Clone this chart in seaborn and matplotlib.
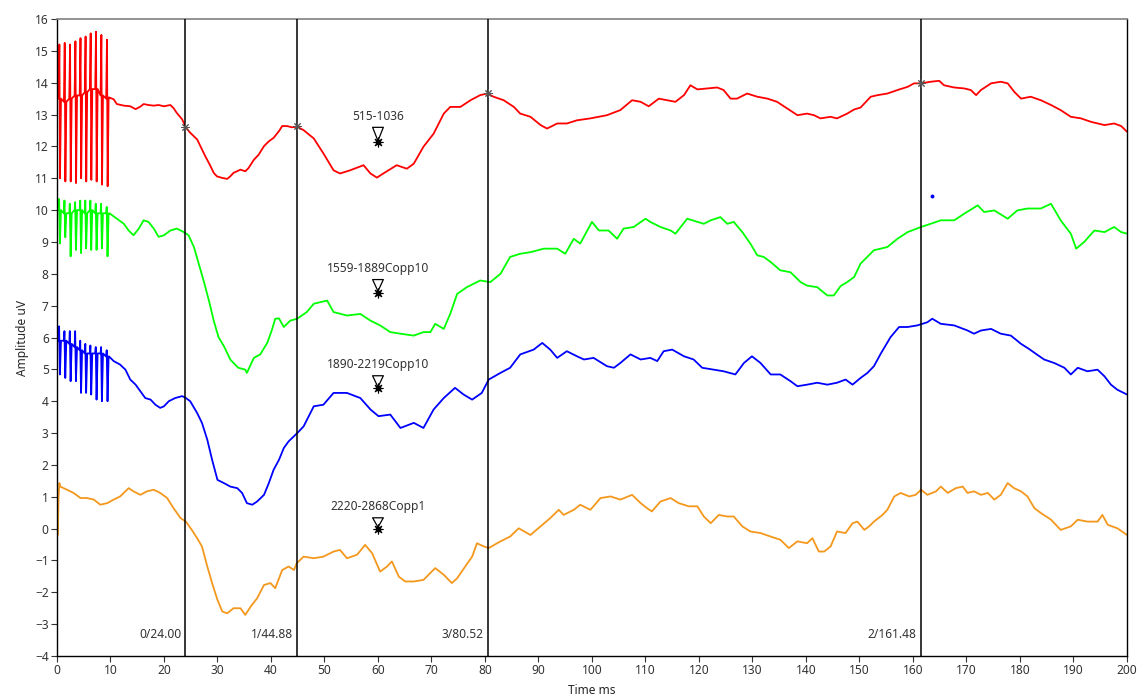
import numpy as np
import pandas as pd
import matplotlib
matplotlib.use("Agg")
import matplotlib.pyplot as plt
import seaborn as sns

# ---------------------------------------------------------------------------
# Stimulus artefact section (0-10 ms): one artefact per stimulus pulse
# ---------------------------------------------------------------------------
stim_t = [0.45, 1.45, 2.45, 3.45, 4.40, 5.35, 6.30, 7.30, 8.30, 9.35]

red_base = [13.5, 13.4, 13.5, 13.6, 13.6, 13.7, 13.8, 13.8, 13.6, 13.5]
red_top = [15.2, 15.25, 15.2, 15.3, 15.4, 15.45, 15.55, 15.6, 15.5, 15.35]
red_bot = [11.0, 10.9, 10.9, 10.85, 11.0, 10.9, 10.95, 10.9, 10.8, 10.75]

green_base = [10.0, 9.9, 9.9, 10.0, 10.0, 9.9, 10.0, 9.9, 9.9, 9.9]
green_top = [10.35, 10.3, 10.2, 10.25, 10.3, 10.3, 10.3, 10.2, 10.2, 10.1]
green_bot = [8.95, 9.15, 8.55, 8.75, 8.65, 8.8, 8.75, 8.75, 8.8, 8.55]

blue_base = [5.9, 5.9, 5.8, 5.7, 5.6, 5.5, 5.5, 5.5, 5.5, 5.4]
blue_top = [6.35, 6.2, 6.2, 6.2, 5.9, 5.8, 5.75, 5.7, 5.7, 5.6]
blue_bot = [4.84, 4.73, 4.63, 4.63, 4.26, 4.26, 4.21, 4.05, 4.0, 4.0]

start_t = [0.0, 0.05]
red_start = [13.4, 14.7]
green_start = [9.6, 10.0]
blue_start = [5.8, 5.9]

# ---------------------------------------------------------------------------
# Averaged responses after the stimulus train
# ---------------------------------------------------------------------------
red_t = [9.7, 10.6, 11.2, 12.5, 13.7, 14.7, 15.6, 16.2, 17.1, 18.1, 19, 20, 21.2, 21.8, 22.4, 23.4,
         24.1, 24.9, 26.2, 26.8, 27.7, 28.7, 29.3, 29.9, 30.9, 31.8, 32.4, 33, 34.3, 35.2, 35.8,
         36.8, 37.7, 38.7, 39.6, 40.5, 41.5, 42.1, 43, 43.9, 44.9, 46.1, 48, 49.8, 51.7, 52.9,
         54.8, 57.3, 58.6, 59.8, 61, 63.5, 65.4, 66.7, 68.5, 70.4, 72.3, 73.5, 75.4, 77.3, 79.1,
         80.4, 81.6, 83.5, 85.4, 86.6, 88.5, 90.4, 91.6, 93.5, 95.3, 97.2, 99.7, 102.8, 105.3,
         107.5, 109.1, 110.6, 112.5, 114.1, 115.6, 117.2, 118.4, 119.7, 121.5, 123.4, 124.6,
         125.9, 127.1, 129, 130.9, 132.8, 134.6, 136.5, 138.4, 140.2, 141.5, 142.7, 144.6, 145.8,
         147.7, 149, 150.2, 152.1, 153.4, 155.2, 157.1, 159, 160.2, 161.5, 163.3, 164.9, 165.8,
         167.7, 169.6, 170.8, 171.8, 172.7, 174.6, 176.4, 177.7, 178.9, 180.2, 182, 183.9, 185.8,
         187.6, 189.5, 191.4, 193.3, 195.8, 197.6, 198.9, 200]
red_v = [13.54, 13.48, 13.33, 13.28, 13.26, 13.17, 13.25, 13.33, 13.3, 13.28, 13.3, 13.26, 13.3,
         13.2, 13.05, 12.85, 12.59, 12.43, 12.22, 12.01, 11.7, 11.38, 11.17, 11.06, 11.01, 10.98,
         11.06, 11.17, 11.27, 11.22, 11.32, 11.58, 11.74, 12.01, 12.16, 12.27, 12.48, 12.64, 12.64,
         12.6, 12.62, 12.51, 12.25, 11.78, 11.25, 11.15, 11.25, 11.41, 11.15, 11.02, 11.15, 11.41,
         11.3, 11.46, 11.99, 12.4, 13.03, 13.24, 13.24, 13.45, 13.61, 13.66, 13.56, 13.45, 13.24,
         13.03, 12.93, 12.67, 12.56, 12.72, 12.72, 12.82, 12.88, 12.98, 13.14, 13.45, 13.4, 13.26,
         13.5, 13.45, 13.4, 13.61, 13.92, 13.79, 13.82, 13.85, 13.77, 13.5, 13.5, 13.66, 13.56,
         13.5, 13.4, 13.19, 12.98, 13.03, 12.98, 12.88, 12.93, 12.88, 13.03, 13.16, 13.22, 13.56,
         13.61, 13.66, 13.77, 13.87, 13.98, 13.98, 14.03, 14.06, 13.92, 13.85, 13.82, 13.77, 13.61,
         13.77, 13.98, 14.03, 13.98, 13.72, 13.5, 13.56, 13.45, 13.3, 13.14, 12.93, 12.88, 12.77,
         12.67, 12.72, 12.64, 12.46]

green_t = [9.9, 11.2, 12.5, 13.4, 14.3, 15.3, 16.2, 17.1, 18.1, 19, 20, 21.2, 22.4, 23.7, 24.6,
           25.6, 26.5, 27.4, 28.4, 29.3, 30.2, 31.2, 32.4, 33, 33.9, 35.2, 35.5, 36.8, 38, 39.3,
           40.2, 40.8, 41.5, 42.4, 43.6, 44.9, 46.7, 48, 50.5, 51.7, 54.2, 56.7, 58.6, 60.4, 62.3,
           64.2, 66.7, 68.5, 69.8, 70.7, 72.3, 73.5, 74.8, 76.6, 79.1, 81, 82.9, 84.7, 86.6, 88.5,
           91, 93.5, 95, 96.6, 97.8, 100, 101.3, 103.1, 104.7, 105.9, 107.8, 110, 110.9, 112.8,
           114.7, 115.6, 117.8, 119.7, 120.9, 122.2, 124, 125.3, 126.5, 128.1, 129.6, 130.9, 132.1,
           133.4, 135.2, 137.1, 139, 140.2, 142.1, 144, 145.2, 146.5, 147.7, 149, 150.2, 152.7,
           155.2, 157.1, 159, 161.5, 163.3, 165.2, 167.7, 169.6, 172.1, 173.3, 175.2, 177.7, 179.5,
           181.4, 183.9, 185.8, 187.6, 189.5, 190.5, 192, 193.9, 195.8, 197.6, 198.9, 200]
green_v = [9.89, 9.73, 9.57, 9.36, 9.21, 9.42, 9.68, 9.63, 9.42, 9.16, 9.21, 9.36, 9.42, 9.31, 9.21,
           8.84, 8.32, 7.79, 7.16, 6.53, 6.01, 5.73, 5.31, 5.2, 5.05, 4.99, 4.89, 5.36, 5.47, 5.83,
           6.25, 6.59, 6.6, 6.33, 6.53, 6.59, 6.8, 7.06, 7.16, 6.8, 6.69, 6.74, 6.53, 6.38, 6.17,
           6.12, 6.06, 6.17, 6.17, 6.43, 6.27, 6.74, 7.37, 7.58, 7.79, 7.74, 8.0, 8.53, 8.63, 8.68,
           8.79, 8.79, 8.63, 9.1, 8.95, 9.63, 9.36, 9.36, 9.1, 9.42, 9.47, 9.73, 9.63, 9.47, 9.36,
           9.26, 9.73, 9.63, 9.57, 9.68, 9.78, 9.57, 9.63, 9.31, 8.95, 8.58, 8.53, 8.37, 8.11, 8.05,
           7.74, 7.63, 7.58, 7.32, 7.32, 7.62, 7.74, 7.9, 8.32, 8.74, 8.84, 9.1, 9.31, 9.47, 9.57,
           9.68, 9.68, 9.89, 10.15, 9.94, 9.99, 9.73, 9.99, 10.05, 10.05, 10.2, 9.68, 9.26, 8.79,
           9.0, 9.36, 9.31, 9.47, 9.31, 9.26]

blue_t = [9.7, 10.6, 11.8, 12.8, 13.7, 14.7, 15.6, 16.5, 17.5, 18.4, 19.3, 20, 20.9, 22.1, 23.4,
          24.1, 24.9, 26.2, 27.1, 28.1, 29, 30, 31.2, 32.4, 33.7, 34.6, 35.5, 36.5, 37.4, 38.7,
          39.6, 40.5, 41.5, 42.4, 43.3, 44.3, 45.2, 46.1, 48, 49.8, 51.7, 54.2, 56.7, 58.6, 60.1,
          62.3, 64.2, 66.7, 68.5, 70.4, 72.3, 74.4, 76, 77.6, 79.4, 80.7, 82.9, 84.7, 86.6, 89.1,
          90.7, 92.2, 93.5, 95.3, 97.2, 98.5, 100.3, 102.8, 104.1, 105.3, 107.2, 109.1, 110.9,
          112.2, 113.4, 115, 117.2, 119, 120.6, 122.8, 124.6, 126.8, 128.4, 129.9, 131.5, 133.4,
          135.2, 137.1, 138.4, 140.2, 142.1, 144, 145.8, 147.4, 148.7, 150.2, 151.5, 152.7, 154,
          155.8, 157.4, 159, 160.8, 162.7, 163.6, 165.2, 167.7, 170.2, 171.4, 172.7, 174.6, 176.4,
          178.3, 180.2, 181.7, 182.7, 184.5, 186.4, 188.3, 189.5, 190.8, 192.6, 194.5, 195.8, 197,
          198.2, 200]
blue_v = [5.41, 5.26, 5.15, 4.99, 4.68, 4.52, 4.31, 4.1, 4.05, 3.89, 3.79, 3.84, 4.0, 4.1, 4.16,
          4.1, 4.0, 3.63, 3.32, 2.79, 2.16, 1.53, 1.43, 1.32, 1.27, 1.12, 0.8, 0.75, 0.85, 1.06,
          1.43, 1.85, 2.16, 2.53, 2.74, 2.9, 3.05, 3.21, 3.84, 3.89, 4.26, 4.26, 4.1, 3.74, 3.53,
          3.58, 3.16, 3.32, 3.16, 3.74, 4.1, 4.42, 4.21, 4.05, 4.26, 4.68, 4.89, 5.05, 5.47, 5.62,
          5.83, 5.62, 5.36, 5.57, 5.41, 5.31, 5.36, 5.1, 5.05, 5.2, 5.47, 5.31, 5.36, 5.26, 5.57,
          5.62, 5.41, 5.31, 5.05, 4.99, 4.94, 4.84, 5.2, 5.41, 5.2, 4.84, 4.84, 4.63, 4.47, 4.52,
          4.58, 4.52, 4.58, 4.68, 4.52, 4.73, 4.89, 5.1, 5.5, 6.01, 6.33, 6.33, 6.38, 6.48, 6.59,
          6.43, 6.38, 6.22, 6.12, 6.22, 6.27, 6.12, 6.06, 5.8, 5.64, 5.52, 5.31, 5.2, 5.05, 4.84,
          5.05, 4.94, 4.99, 4.78, 4.52, 4.36, 4.21]

orange_t = [0, 0.15, 0.3, 0.45, 0.6, 1.9, 3.1, 4.4, 5.6, 6.9, 8.1, 9.4, 10.6, 11.8, 13.4, 14.3,
            15.6, 16.8, 18.1, 19.3, 20.6, 21.8, 23.1, 24.1, 25.2, 26.2, 27.1, 28.1, 29, 30, 30.9,
            31.8, 33, 34.3, 35.2, 36.2, 37.4, 38.7, 39.9, 40.8, 42.1, 43.3, 44.3, 44.8, 46.1, 48,
            49.8, 51.7, 52.9, 54.2, 56.1, 57.6, 58.9, 60.4, 61.7, 62.6, 63.9, 65.1, 66.7, 68.5,
            70.7, 72.3, 73.8, 74.8, 76.3, 77.6, 78.5, 79.8, 80.7, 82.9, 84.7, 86.3, 88.5, 90.4,
            92.2, 93.8, 94.7, 96.6, 97.8, 99.7, 101.6, 103.5, 105.3, 107.5, 109.1, 110.3, 111.2,
            112.8, 114.7, 116.2, 118.1, 119.7, 120.9, 122.2, 123.7, 125.3, 126.5, 128.1, 129.6,
            131.5, 133.4, 135.2, 136.8, 138.4, 140.2, 141.2, 142.4, 143.4, 144.6, 145.8, 147.4,
            148.7, 149.6, 150.9, 151.8, 152.7, 154.3, 155.2, 156.5, 157.7, 159.3, 160.5, 161.5,
            162.7, 164.3, 165.2, 166.5, 168, 169.3, 170.2, 171.4, 172.7, 174, 175.2, 176.4, 177.7,
            178.9, 180.2, 181.4, 182.7, 183.9, 185.8, 187.6, 189.5, 190.8, 192.6, 194.5, 195.4,
            196.4, 198.2, 200]
orange_v = [1.01, -0.2, 1.0, 1.43, 1.32, 1.22, 1.12, 0.96, 0.96, 0.91, 0.75, 0.8, 0.91, 1.01, 1.27,
            1.17, 1.06, 1.17, 1.22, 1.12, 0.96, 0.64, 0.33, 0.22, -0.04, -0.3, -0.56, -1.19, -1.71,
            -2.24, -2.6, -2.66, -2.5, -2.5, -2.71, -2.45, -2.19, -1.77, -1.71, -1.87, -1.3, -1.19,
            -1.3, -1.09, -0.88, -0.93, -0.88, -0.72, -0.67, -0.93, -0.82, -0.51, -0.77, -1.35,
            -1.19, -1.03, -1.51, -1.66, -1.66, -1.61, -1.24, -1.45, -1.71, -1.56, -1.19, -0.88,
            -0.46, -0.56, -0.61, -0.4, -0.25, 0.01, -0.2, 0.07, 0.33, 0.59, 0.43, 0.59, 0.75, 0.59,
            0.96, 1.01, 0.91, 1.06, 0.8, 0.64, 0.54, 0.85, 0.96, 0.8, 0.7, 0.7, 0.38, 0.17, 0.43,
            0.38, 0.38, 0.07, -0.09, -0.14, -0.25, -0.35, -0.61, -0.4, -0.46, -0.3, -0.72, -0.72,
            -0.56, -0.09, -0.14, 0.17, 0.22, -0.04, 0.07, 0.22, 0.43, 0.59, 1.01, 1.12, 1.01, 1.06,
            1.22, 1.06, 1.17, 1.32, 1.12, 1.27, 1.32, 1.12, 1.17, 1.06, 1.12, 0.91, 1.06, 1.43,
            1.27, 1.17, 1.01, 0.64, 0.49, 0.28, -0.04, 0.07, 0.28, 0.22, 0.22, 0.43, 0.12, 0.01,
            -0.2]

# Cursors (index/latency in ms) and averaged-sweep labels
cursor_ms = [24.00, 44.88, 80.52, 161.48]
cursor_tags = ["0/24.00", "1/44.88", "3/80.52", "2/161.48"]
cursor_on_red = [12.60, 12.63, 13.68, 13.99]

sweep_names = ["515-1036", "1559-1889Copp10", "1890-2219Copp10", "2220-2868Copp1"]
sweep_label_y = [12.95, 8.17, 5.15, 0.69]
sweep_mark_y = [12.13, 7.41, 4.40, 0.00]
sweep_mark_x = 60.0
colors = ["#FF0000", "#00FF00", "#0000FF", "#F4981D"]


def with_artefacts(base, top, bot, start, main_t, main_v, biphasic):
    """Join the stimulus artefacts to the recorded response."""
    t = list(start_t)
    v = list(start)
    for k, tk in enumerate(stim_t):
        if biphasic:
            t += [tk - 0.15, tk, tk + 0.12, tk + 0.3]
        else:
            t += [tk - 0.15, tk - 0.05, tk + 0.1, tk + 0.3]
        v += [base[k], top[k], bot[k], base[k]]
    return t + list(main_t), v + list(main_v)


traces = [
    with_artefacts(red_base, red_top, red_bot, red_start, red_t, red_v, True),
    with_artefacts(green_base, green_top, green_bot, green_start, green_t, green_v, False),
    with_artefacts(blue_base, blue_top, blue_bot, blue_start, blue_t, blue_v, False),
    (orange_t, orange_v),
]

frames = []
for name, (t, v) in zip(sweep_names, traces):
    frames.append(pd.DataFrame({"Time ms": t, "Amplitude uV": v, "sweep": name}))
df = pd.concat(frames, ignore_index=True)

sns.set_theme(style="ticks")
plt.rcParams["font.family"] = ["Noto Sans", "DejaVu Sans"]
plt.rcParams["font.size"] = 8.6

fig = plt.figure(figsize=(11.37, 6.99), dpi=100)
ax = fig.add_axes([0.0501, 0.0615, 0.9411, 0.9113])

for name, col in zip(sweep_names, colors):
    sns.lineplot(data=df[df["sweep"] == name], x="Time ms", y="Amplitude uV",
                 color=col, lw=1.3, estimator=None, sort=False, ax=ax, legend=False)

# cursors
for xc, tag, yr in zip(cursor_ms, cursor_tags, cursor_on_red):
    ax.axvline(xc, color="black", lw=1.1, zorder=5)
    ax.text(xc - 0.8, -3.32, tag, ha="right", va="center", fontsize=8.6, color="#333333")
    ax.plot(xc, yr, marker=(8, 2, 0), ms=6, mew=0.7, color="#555555", zorder=6)

# sweep labels with pointers
for name, ly, my in zip(sweep_names, sweep_label_y, sweep_mark_y):
    ax.annotate(name, xy=(sweep_mark_x, my), xytext=(sweep_mark_x, ly),
                ha="center", va="center", fontsize=8.6, color="#333333",
                arrowprops=dict(arrowstyle="wedge,tail_width=0.9", fc="white", ec="black",
                                lw=0.9, shrinkA=1, shrinkB=1))
    ax.plot(sweep_mark_x, my, marker=(8, 2, 0), ms=7, mew=0.8, color="black", zorder=6)
    ax.plot(sweep_mark_x, my, marker="s", ms=2.5, color="black", zorder=6)

ax.plot(163.5, 10.43, marker="o", ms=1.8, color="#0000FF")

ax.set_xlim(0, 200)
ax.set_ylim(-4, 16)
ax.set_xticks(np.arange(0, 201, 10))
ax.set_yticks(np.arange(-4, 17, 1))
ax.tick_params(axis="both", length=4, width=0.8, pad=2, labelsize=8.6, colors="#333333")
ax.set_xlabel("Time ms", fontsize=8.6, labelpad=5)
ax.set_ylabel("Amplitude uV", fontsize=8.6, labelpad=4)
for side in ["left", "bottom", "right"]:
    ax.spines[side].set_color("black")
    ax.spines[side].set_linewidth(1.0)
ax.spines["top"].set_color("#808080")
ax.spines["top"].set_linewidth(1.2)

fig.savefig("out.png", dpi=100, facecolor="white")
